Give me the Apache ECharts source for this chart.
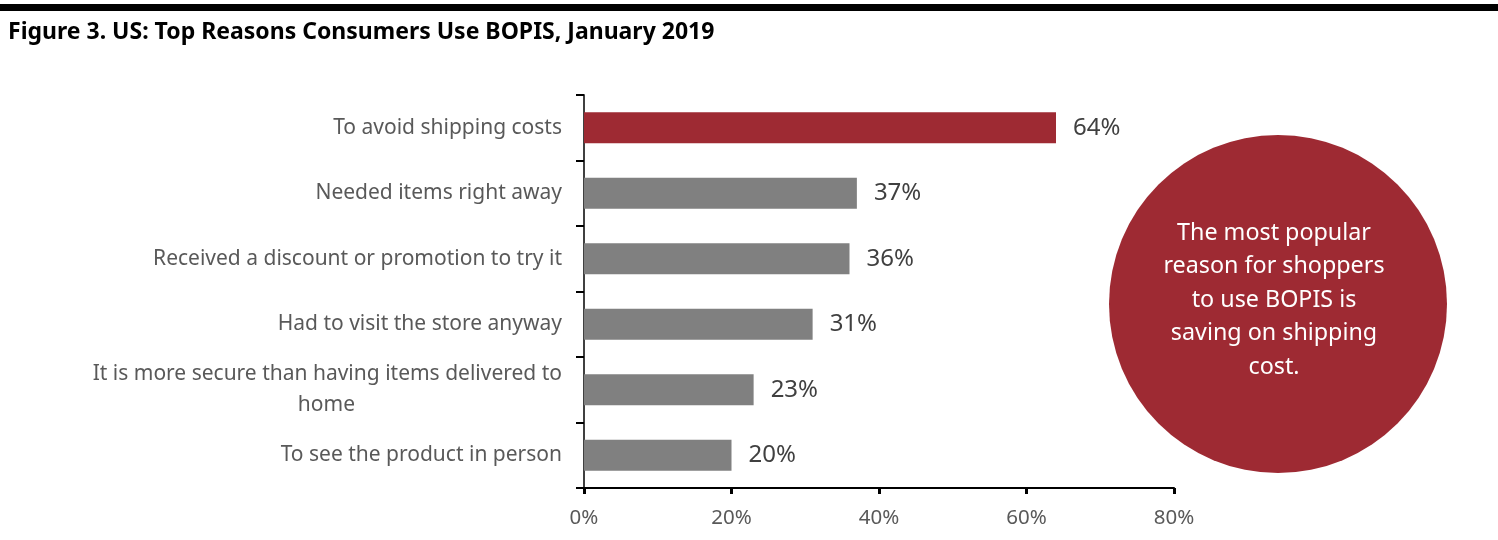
<!DOCTYPE html>
<html>
<head>
<meta charset="utf-8">
<script src="https://cdn.jsdelivr.net/npm/echarts@6/dist/echarts.min.js"></script>
<style>
html,body{margin:0;padding:0;background:#fff;}
#c{width:1498px;height:540px;}
</style>
</head>
<body>
<div id="c"></div>
<script>
const title = 'Figure 3. US: Top Reasons Consumers Use BOPIS, January 2019';
const categories = [
  'To avoid shipping costs',
  'Needed items right away',
  'Received a discount or promotion to try it',
  'Had to visit the store anyway',
  'It is more secure than having items delivered to\nhome',
  'To see the product in person'
];
const values = [64, 37, 36, 31, 23, 20];
const xTicks = [0, 20, 40, 60, 80];
const calloutText = 'The most popular\nreason for shoppers\nto use BOPIS is\nsaving on shipping\ncost.';

const RED = '#9E2A33';
const GRAY = '#808080';
const FONT = '"Noto Sans", "Open Sans", sans-serif';

const chart = echarts.init(document.getElementById('c'), null, {renderer: 'canvas'});

const catRev = categories.slice().reverse();
const valRev = values.slice().reverse();

chart.setOption({
  animation: false,
  backgroundColor: '#fff',
  grid: {left: 584, right: 324, top: 95, bottom: 52, containLabel: false},
  xAxis: {
    type: 'value',
    min: xTicks[0],
    max: xTicks[xTicks.length - 1],
    interval: 20,
    axisLine: {show: true, lineStyle: {color: '#000', width: 2}},
    axisTick: {show: true, length: 6, lineStyle: {color: '#000', width: 3}},
    splitLine: {show: false},
    axisLabel: {
      formatter: v => v + '%',
      color: '#595959', fontSize: 20.5, fontFamily: FONT, margin: 20
    }
  },
  yAxis: {
    type: 'category',
    data: catRev,
    axisLine: {show: true, lineStyle: {color: '#404040', width: 2}},
    axisTick: {show: true, length: 8, inside: false, lineStyle: {color: '#000', width: 2}},
    axisLabel: {
      color: '#595959', fontSize: 21, fontFamily: FONT, margin: 22,
      formatter: function (v) {
        if (v.indexOf('\n') >= 0) {
          const parts = v.split('\n');
          return '{a|' + parts[0] + '}\n{b|' + parts[1] + '}';
        }
        return v;
      },
      rich: {
        a: {color: '#595959', fontSize: 21, fontFamily: FONT, lineHeight: 31},
        b: {color: '#595959', fontSize: 21, fontFamily: FONT, lineHeight: 31, padding: [0, 207, 0, 0]}
      }
    }
  },
  series: [{
    type: 'bar',
    data: valRev.map((v, i) => ({
      value: v,
      itemStyle: {color: i === valRev.length - 1 ? RED : GRAY}
    })),
    barWidth: 31,
    label: {
      show: true,
      position: 'right',
      distance: 17,
      formatter: p => p.value + '%',
      color: '#404040',
      fontSize: 24,
      fontFamily: FONT
    }
  }],
  graphic: [
    {type: 'rect', left: 0, top: 4, shape: {width: 1498, height: 7}, style: {fill: '#000'}},
    {type: 'text', x: 8, y: 32, style: {text: title, fill: '#000', font: 'bold 23px ' + FONT, verticalAlign: 'middle'}},
    {type: 'circle', shape: {cx: 1278, cy: 304, r: 169}, style: {fill: RED}},
    {type: 'text', x: 1274, y: 300, style: {
      text: calloutText, fill: '#fff', font: '23.3px ' + FONT, lineHeight: 33.5,
      align: 'center', verticalAlign: 'middle'
    }}
  ]
});
</script>
</body>
</html>
